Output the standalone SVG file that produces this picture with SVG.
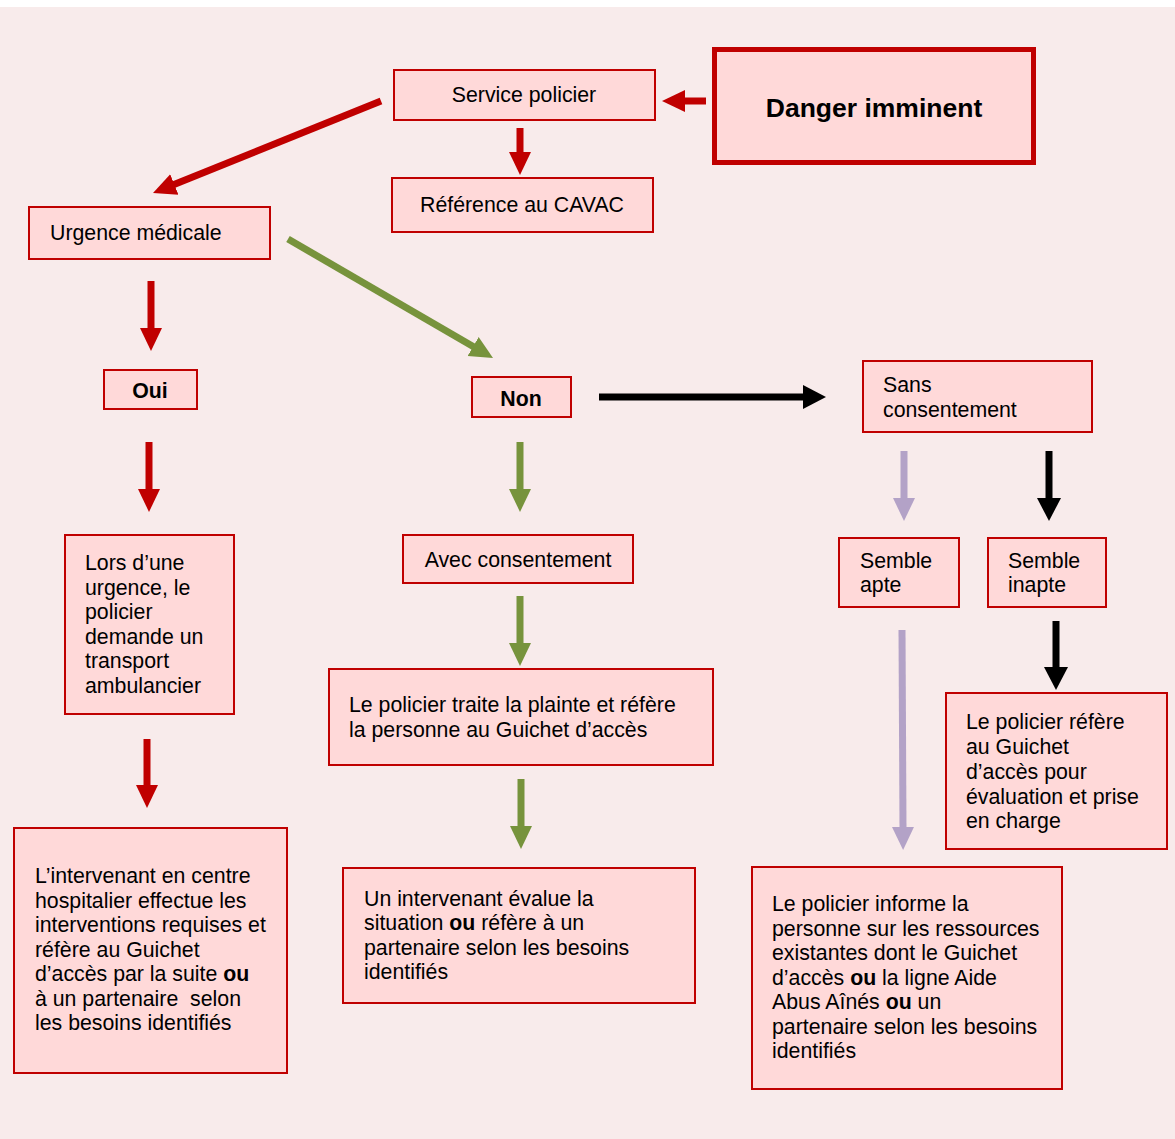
<svg xmlns="http://www.w3.org/2000/svg" width="1175" height="1139" viewBox="0 0 1175 1139">
<style>
.box{fill:#FFD9D9;stroke:#C00000;stroke-width:2}
.t{font-family:"Liberation Sans",Arial,sans-serif;font-size:21.3px;fill:#000}
.c{text-anchor:middle}
.b{font-weight:bold}
.red{stroke:#C00000;stroke-width:7;fill:none}
.grn{stroke:#77933C;stroke-width:7;fill:none}
.pur{stroke:#B3A2C7;stroke-width:7;fill:none}
.blk{stroke:#000;stroke-width:7;fill:none}
</style>
<defs>
<marker id="mr" viewBox="0 -12 24 24" markerWidth="24" markerHeight="24" refX="1" refY="0" orient="auto" markerUnits="userSpaceOnUse"><path d="M0,-11 L23,0 L0,11 z" fill="#C00000"/></marker>
<marker id="mg" viewBox="0 -12 24 24" markerWidth="24" markerHeight="24" refX="1" refY="0" orient="auto" markerUnits="userSpaceOnUse"><path d="M0,-11 L23,0 L0,11 z" fill="#77933C"/></marker>
<marker id="mp" viewBox="0 -12 24 24" markerWidth="24" markerHeight="24" refX="1" refY="0" orient="auto" markerUnits="userSpaceOnUse"><path d="M0,-11 L23,0 L0,11 z" fill="#B3A2C7"/></marker>
<marker id="mb" viewBox="0 -12 24 24" markerWidth="24" markerHeight="24" refX="1" refY="0" orient="auto" markerUnits="userSpaceOnUse"><path d="M0,-12 L23,0 L0,12 z" fill="#000"/></marker>
</defs>
<rect x="0" y="0" width="1175" height="1139" fill="#FFFFFF"/>
<rect x="0" y="7" width="1175" height="1132" fill="#F8EBEB"/>

<g id="connectors">
<line class="red" x1="706" y1="101" x2="684" y2="101" marker-end="url(#mr)"/>
<line class="red" x1="520" y1="128" x2="520" y2="153" marker-end="url(#mr)"/>
<line class="red" x1="381" y1="101" x2="173.4" y2="184.8" marker-end="url(#mr)"/>
<line class="grn" x1="288" y1="239" x2="474" y2="347" marker-end="url(#mg)"/>
<line class="red" x1="151" y1="281" x2="151" y2="329" marker-end="url(#mr)"/>
<line class="blk" x1="599" y1="397" x2="804" y2="397" marker-end="url(#mb)"/>
<line class="red" x1="149" y1="442" x2="149" y2="490" marker-end="url(#mr)"/>
<line class="grn" x1="520" y1="442" x2="520" y2="490" marker-end="url(#mg)"/>
<line class="pur" x1="904" y1="451" x2="904" y2="499" marker-end="url(#mp)"/>
<line class="blk" x1="1049" y1="451" x2="1049" y2="499" marker-end="url(#mb)"/>
<line class="grn" x1="520" y1="596" x2="520" y2="644" marker-end="url(#mg)"/>
<line class="blk" x1="1056" y1="621" x2="1056" y2="668" marker-end="url(#mb)"/>
<line class="red" x1="147" y1="739" x2="147" y2="786" marker-end="url(#mr)"/>
<line class="pur" x1="902" y1="630" x2="903" y2="828" marker-end="url(#mp)"/>
<line class="grn" x1="521" y1="779" x2="521" y2="827" marker-end="url(#mg)"/>
</g>

<g id="danger">
<rect x="714.5" y="49.5" width="319" height="113" fill="#FFD9D9" stroke="#C00000" stroke-width="5"/>
<text class="t c b" x="874" y="117" style="font-size:26.5px">Danger imminent</text>
</g>
<g id="service-policier">
<rect class="box" x="394" y="70" width="261" height="50"/>
<text class="t c" x="524" y="102">Service policier</text>
</g>
<g id="cavac">
<rect class="box" x="392" y="178" width="261" height="54"/>
<text class="t c" x="522" y="212">Référence au CAVAC</text>
</g>
<g id="urgence">
<rect class="box" x="29" y="207" width="241" height="52"/>
<text class="t" x="50" y="240">Urgence médicale</text>
</g>
<g id="oui">
<rect class="box" x="104" y="370" width="93" height="39"/>
<text class="t c b" x="150" y="398">Oui</text>
</g>
<g id="non">
<rect class="box" x="472" y="377" width="99" height="40"/>
<text class="t c b" x="521" y="406">Non</text>
</g>
<g id="sans-consentement">
<rect class="box" x="863" y="361" width="229" height="71"/>
<text class="t" x="883" y="392">Sans</text>
<text class="t" x="883" y="417">consentement</text>
</g>
<g id="ambulance">
<rect class="box" x="65" y="535" width="169" height="179"/>
<text class="t" x="85" y="570">Lors d’une</text>
<text class="t" x="85" y="595">urgence, le</text>
<text class="t" x="85" y="619">policier</text>
<text class="t" x="85" y="644">demande un</text>
<text class="t" x="85" y="668">transport</text>
<text class="t" x="85" y="693">ambulancier</text>
</g>
<g id="avec-consentement">
<rect class="box" x="403" y="535" width="230" height="48"/>
<text class="t c" x="518" y="567">Avec consentement</text>
</g>
<g id="semble-apte">
<rect class="box" x="839" y="538" width="120" height="69"/>
<text class="t" x="860" y="568">Semble</text>
<text class="t" x="860" y="592">apte</text>
</g>
<g id="semble-inapte">
<rect class="box" x="988" y="538" width="118" height="69"/>
<text class="t" x="1008" y="568">Semble</text>
<text class="t" x="1008" y="592">inapte</text>
</g>
<g id="plainte">
<rect class="box" x="329" y="669" width="384" height="96"/>
<text class="t" x="349" y="712">Le policier traite la plainte et réfère</text>
<text class="t" x="349" y="737">la personne au Guichet d’accès</text>
</g>
<g id="refere-guichet">
<rect class="box" x="946" y="693" width="221" height="156"/>
<text class="t" x="966" y="729">Le policier réfère</text>
<text class="t" x="966" y="754">au Guichet</text>
<text class="t" x="966" y="779">d’accès pour</text>
<text class="t" x="966" y="804">évaluation et prise</text>
<text class="t" x="966" y="828">en charge</text>
</g>
<g id="intervenant-hospitalier">
<rect class="box" x="14" y="828" width="273" height="245"/>
<text class="t" x="35" y="883">L’intervenant en centre</text>
<text class="t" x="35" y="908">hospitalier effectue les</text>
<text class="t" x="35" y="932">interventions requises et</text>
<text class="t" x="35" y="957">réfère au Guichet</text>
<text class="t" x="35" y="981">d’accès par la suite <tspan class="b">ou</tspan></text>
<text class="t" x="35" y="1006" xml:space="preserve">à un partenaire  selon</text>
<text class="t" x="35" y="1030">les besoins identifiés</text>
</g>
<g id="intervenant-evalue">
<rect class="box" x="343" y="868" width="352" height="135"/>
<text class="t" x="364" y="906">Un intervenant évalue la</text>
<text class="t" x="364" y="930">situation <tspan class="b">ou</tspan> réfère à un</text>
<text class="t" x="364" y="955">partenaire selon les besoins</text>
<text class="t" x="364" y="979">identifiés</text>
</g>
<g id="informe">
<rect class="box" x="752" y="867" width="310" height="222"/>
<text class="t" x="772" y="911">Le policier informe la</text>
<text class="t" x="772" y="936">personne sur les ressources</text>
<text class="t" x="772" y="960">existantes dont le Guichet</text>
<text class="t" x="772" y="985">d’accès <tspan class="b">ou</tspan> la ligne Aide</text>
<text class="t" x="772" y="1009">Abus Aînés <tspan class="b">ou</tspan> un</text>
<text class="t" x="772" y="1034">partenaire selon les besoins</text>
<text class="t" x="772" y="1058">identifiés</text>
</g>
</svg>
